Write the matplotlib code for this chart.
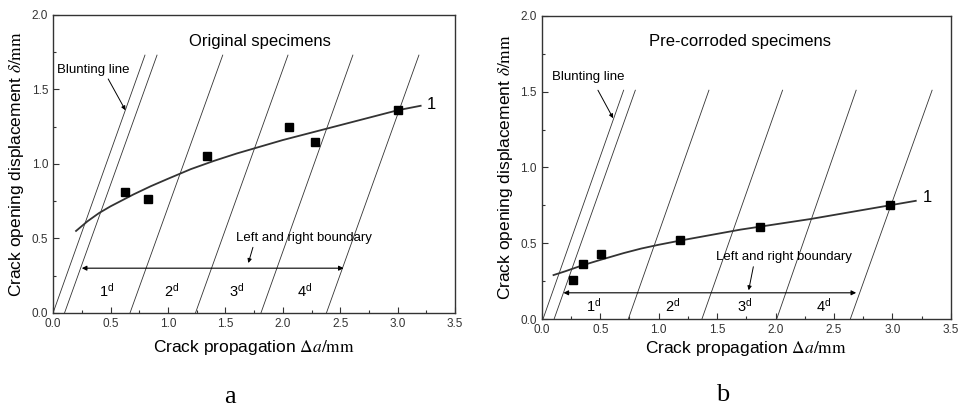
import matplotlib.pyplot as plt
from matplotlib.ticker import MultipleLocator

plt.rcParams['font.family'] = ['Liberation Sans', 'DejaVu Sans']
plt.rcParams['mathtext.fontset'] = 'stix'

# panel a - original specimens
a_pts_x = [0.63, 0.83, 1.34, 2.05, 2.28, 3.00]
a_pts_y = [0.81, 0.765, 1.05, 1.25, 1.15, 1.36]
a_fit_x = [0.2, 0.3, 0.4, 0.5, 0.6, 0.7, 0.85, 1.0, 1.2, 1.4, 1.6, 1.8,
           2.0, 2.2, 2.4, 2.6, 2.8, 3.0, 3.2]
a_fit_y = [0.55, 0.615, 0.67, 0.715, 0.755, 0.795, 0.85, 0.90, 0.965, 1.02, 1.07, 1.115,
           1.16, 1.20, 1.24, 1.28, 1.32, 1.36, 1.39]
a_line_x0 = [0.0, 0.10, 0.67, 1.24, 1.81, 2.38]
a_line_x1 = [0.80, 0.905, 1.477, 2.045, 2.61, 3.185]
a_line_top = 1.73

# panel b - pre-corroded specimens
b_pts_x = [0.27, 0.35, 0.51, 1.18, 1.87, 2.98]
b_pts_y = [0.26, 0.36, 0.43, 0.52, 0.605, 0.755]
b_fit_x = [0.1, 0.2, 0.35, 0.5, 0.7, 0.85, 1.0, 1.2, 1.45, 1.7, 2.0, 2.3, 2.6, 2.9, 3.2]
b_fit_y = [0.29, 0.315, 0.355, 0.39, 0.435, 0.465, 0.49, 0.52, 0.555, 0.59, 0.625, 0.66,
           0.70, 0.74, 0.78]
b_line_x0 = [0.01, 0.105, 0.74, 1.37, 2.01, 2.64]
b_line_x1 = [0.70, 0.80, 1.43, 2.06, 2.69, 3.34]
b_line_top = 1.51

zone_labels = ['1$^{\\mathregular{d}}$', '2$^{\\mathregular{d}}$',
               '3$^{\\mathregular{d}}$', '4$^{\\mathregular{d}}$']

panels = [
    dict(rect=[0.055, 0.235, 0.4166, 0.7286], title='Original specimens', title_xy=(1.80, 1.82),
         px=a_pts_x, py=a_pts_y, fx=a_fit_x, fy=a_fit_y,
         lx0=a_line_x0, lx1=a_line_x1, ltop=a_line_top,
         arrow_y=0.30, arrow_x=(0.25, 2.53),
         zone_x=[0.47, 1.03, 1.60, 2.19], zone_y=0.15,
         bnd_txt=(2.18, 0.50), bnd_from=(1.74, 0.44), bnd_to=(1.70, 0.335),
         blunt_txt=(0.03, 1.63), blunt_from=(0.48, 1.57), blunt_to=(0.63, 1.36),
         one_xy=(3.25, 1.40), letter='a', letter_xy=(0.238, 0.03), xlabel_pad=6),
    dict(rect=[0.5615, 0.22, 0.4238, 0.741], title='Pre-corroded specimens', title_xy=(1.70, 1.83),
         px=b_pts_x, py=b_pts_y, fx=b_fit_x, fy=b_fit_y,
         lx0=b_line_x0, lx1=b_line_x1, ltop=b_line_top,
         arrow_y=0.173, arrow_x=(0.185, 2.69),
         zone_x=[0.44, 1.12, 1.74, 2.41], zone_y=0.09,
         bnd_txt=(2.07, 0.41), bnd_from=(1.81, 0.345), bnd_to=(1.77, 0.19),
         blunt_txt=(0.085, 1.60), blunt_from=(0.48, 1.51), blunt_to=(0.61, 1.325),
         one_xy=(3.26, 0.80), letter='b', letter_xy=(0.749, 0.035), xlabel_pad=2),
]

fig = plt.figure(figsize=(9.65, 4.09), dpi=100)

for p in panels:
    ax = fig.add_axes(p['rect'])
    ax.set_xlim(0, 3.5)
    ax.set_ylim(0, 2.0)

    # blunting / exclusion lines
    for x0, x1 in zip(p['lx0'], p['lx1']):
        ax.plot([x0, x1], [0, p['ltop']], color='#333333', linewidth=0.6)

    ax.plot(p['fx'], p['fy'], color='#333333', linewidth=1.3)
    ax.plot(p['px'], p['py'], 's', color='black', markersize=5.5)

    ax.annotate('', xy=(p['arrow_x'][0], p['arrow_y']), xytext=(p['arrow_x'][1], p['arrow_y']),
                arrowprops=dict(arrowstyle='<|-|>', color='black', lw=0.8,
                                mutation_scale=7, shrinkA=0, shrinkB=0))
    for zx, zl in zip(p['zone_x'], zone_labels):
        ax.text(zx, p['zone_y'], zl, ha='center', va='center', fontsize=10.5)

    ax.text(p['bnd_txt'][0], p['bnd_txt'][1], 'Left and right boundary',
            ha='center', va='center', fontsize=9.5)
    ax.annotate('', xy=p['bnd_to'], xytext=p['bnd_from'],
                arrowprops=dict(arrowstyle='-|>', color='black', lw=0.7,
                                mutation_scale=6, shrinkA=0, shrinkB=0))
    ax.text(p['blunt_txt'][0], p['blunt_txt'][1], 'Blunting line',
            ha='left', va='center', fontsize=9.5)
    ax.annotate('', xy=p['blunt_to'], xytext=p['blunt_from'],
                arrowprops=dict(arrowstyle='-|>', color='black', lw=0.7,
                                mutation_scale=6, shrinkA=0, shrinkB=0))

    ax.text(p['title_xy'][0], p['title_xy'][1], p['title'], ha='center', va='center', fontsize=12)
    ax.text(p['one_xy'][0], p['one_xy'][1], '1', ha='left', va='center', fontsize=12)

    ax.xaxis.set_major_locator(MultipleLocator(0.5))
    ax.xaxis.set_minor_locator(MultipleLocator(0.25))
    ax.yaxis.set_major_locator(MultipleLocator(0.5))
    ax.yaxis.set_minor_locator(MultipleLocator(0.25))
    ax.tick_params(which='both', direction='in', labelsize=8.5, colors='#333333')
    ax.tick_params(which='major', length=4, width=0.8)
    ax.tick_params(which='minor', length=2.5, width=0.8)
    ax.xaxis.set_major_formatter(plt.FormatStrFormatter('%.1f'))
    ax.yaxis.set_major_formatter(plt.FormatStrFormatter('%.1f'))
    for s in ax.spines.values():
        s.set_linewidth(1.0)
        s.set_color('#333333')

    ax.set_xlabel(r'Crack propagation $\Delta a/\mathrm{mm}$', fontsize=12.5, labelpad=p['xlabel_pad'])
    ax.set_ylabel(r'Crack opening displacement $\delta/\mathrm{mm}$', fontsize=12.5, labelpad=4)

    fig.text(p['letter_xy'][0], p['letter_xy'][1], p['letter'], ha='center', va='center',
             fontsize=19, family='Liberation Serif')

fig.savefig('out.png', dpi=100)
